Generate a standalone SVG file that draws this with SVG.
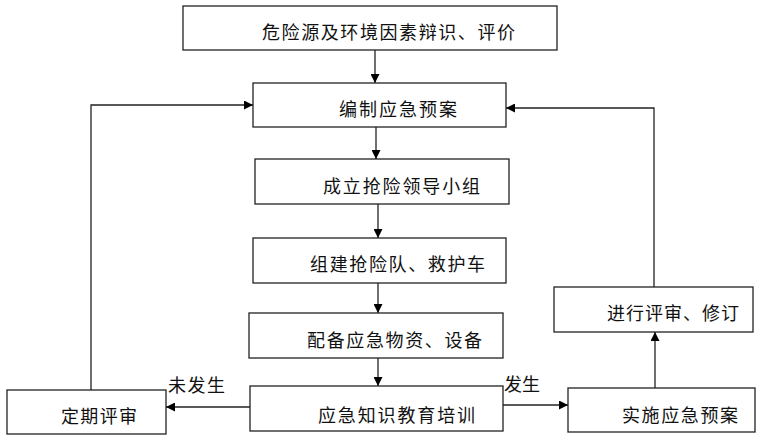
<svg xmlns="http://www.w3.org/2000/svg" width="760" height="439" viewBox="0 0 760 439">
<defs>
<style>
.box{fill:#fff;stroke:#222;stroke-width:1.3}
.t{font-family:"Liberation Serif","Noto Sans CJK SC",serif;font-size:18px;fill:#111}
.c{fill:none;stroke:#222;stroke-width:1.3}
</style>
<marker id="ah" viewBox="0 0 10 10" refX="10" refY="5" markerWidth="9" markerHeight="9" markerUnits="userSpaceOnUse" orient="auto">
<path d="M0,0 L10,5 L0,10 z" fill="#000"/>
</marker>
</defs>
<rect width="760" height="439" fill="#fff"/>
<g id="connectors">
<line class="c" x1="375" y1="50" x2="375" y2="83" marker-end="url(#ah)"/>
<line class="c" x1="376" y1="127" x2="376" y2="159" marker-end="url(#ah)"/>
<line class="c" x1="378" y1="204" x2="378" y2="238" marker-end="url(#ah)"/>
<line class="c" x1="378" y1="283" x2="378" y2="313" marker-end="url(#ah)"/>
<line class="c" x1="378" y1="358" x2="378" y2="386" marker-end="url(#ah)"/>
<line class="c" x1="250" y1="407" x2="166" y2="407" marker-end="url(#ah)"/>
<line class="c" x1="503" y1="405" x2="568" y2="405" marker-end="url(#ah)"/>
<line class="c" x1="655" y1="388" x2="655" y2="332" marker-end="url(#ah)"/>
<polyline class="c" points="91,390 91,105 253,105" marker-end="url(#ah)"/>
<polyline class="c" points="654,287 654,108 506,108" marker-end="url(#ah)"/>
<text class="t" x="168" y="392" textLength="57" lengthAdjust="spacing">未发生</text>
<text class="t" x="504" y="391" textLength="36" lengthAdjust="spacing">发生</text>
</g>
<g id="n1"><rect class="box" x="183" y="6" width="374" height="44"/><text class="t" x="262" y="39" textLength="253" lengthAdjust="spacing">危险源及环境因素辩识、评价</text></g>
<g id="n2"><rect class="box" x="253" y="83" width="253" height="44"/><text class="t" x="339" y="116" textLength="118" lengthAdjust="spacing">编制应急预案</text></g>
<g id="n3"><rect class="box" x="255" y="159" width="254" height="45"/><text class="t" x="323" y="193" textLength="157" lengthAdjust="spacing">成立抢险领导小组</text></g>
<g id="n4"><rect class="box" x="253" y="238" width="253" height="45"/><text class="t" x="310" y="271" textLength="175" lengthAdjust="spacing">组建抢险队、救护车</text></g>
<g id="n5"><rect class="box" x="249" y="313" width="254" height="45"/><text class="t" x="307" y="347" textLength="175" lengthAdjust="spacing">配备应急物资、设备</text></g>
<g id="n6"><rect class="box" x="250" y="386" width="253" height="45"/><text class="t" x="318" y="422" textLength="157" lengthAdjust="spacing">应急知识教育培训</text></g>
<g id="n7"><rect class="box" x="7" y="390" width="159" height="44"/><text class="t" x="61" y="423" textLength="76" lengthAdjust="spacing">定期评审</text></g>
<g id="n8"><rect class="box" x="568" y="388" width="187" height="44"/><text class="t" x="622" y="422" textLength="116" lengthAdjust="spacing">实施应急预案</text></g>
<g id="n9"><rect class="box" x="554" y="287" width="199" height="45"/><text class="t" x="607" y="320" textLength="132" lengthAdjust="spacing">进行评审、修订</text></g>
</svg>
